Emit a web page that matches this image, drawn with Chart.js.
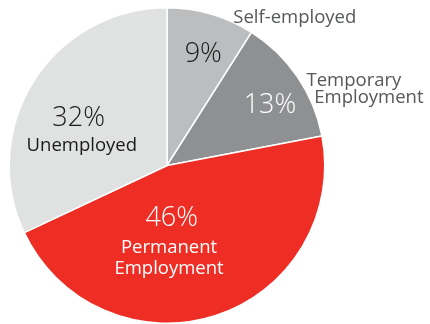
<!DOCTYPE html>
<html><head><meta charset="utf-8">
<script src="https://cdn.jsdelivr.net/npm/chart.js@4.4.1/dist/chart.umd.min.js"></script>
<style>html,body{margin:0;padding:0;background:#fff}#wrap{width:430px;height:324px}</style>
</head><body><div id="wrap"><canvas id="c" width="430" height="324"></canvas></div>
<script>
const categories = ["Self-employed", "Temporary Employment", "Permanent Employment", "Unemployed"];
const shares = [9, 13, 46, 32];
const sliceColors = ["#bbbdbf", "#8e9092", "#ee2e24", "#e0e1e1"];

// label layout relative to pie centre, in units of the radius
const labelSpecs = [
  [{t: shares[0] + "%", dx: 0.23, by: -0.656, big: true, c: "#1a1a1a"},
   {t: "Self-employed", dx: 0.81, by: -0.902, big: false, c: "#555759"}],
  [{t: shares[1] + "%", dx: 0.653, by: -0.335, big: true, c: "#ffffff"},
   {t: "Temporary", dx: 1.185, by: -0.505, big: false, c: "#555759"},
   {t: "Employment", dx: 1.28, by: -0.397, big: false, c: "#555759"}],
  [{t: shares[2] + "%", dx: 0.03, by: 0.385, big: true, c: "#ffffff"},
   {t: "Permanent", dx: 0.013, by: 0.555, big: false, c: "#ffffff"},
   {t: "Employment", dx: 0.013, by: 0.69, big: false, c: "#ffffff"}],
  [{t: shares[3] + "%", dx: -0.56, by: -0.252, big: true, c: "#1a1a1a"},
   {t: "Unemployed", dx: -0.54, by: -0.095, big: false, c: "#1a1a1a"}]
];

const labelPlugin = {
  id: "sliceLabels",
  afterDatasetsDraw(chart) {
    const ctx = chart.ctx;
    const arcs = chart.getDatasetMeta(0).data;
    ctx.save();
    ctx.textAlign = "center";
    ctx.textBaseline = "alphabetic";
    arcs.forEach((arc, i) => {
      const p = arc.getProps(["x", "y", "outerRadius"], true);
      labelSpecs[i].forEach(l => {
        ctx.font = l.big ? "300 27px 'Open Sans', sans-serif" : "400 18.5px 'Open Sans', sans-serif";
        ctx.fillStyle = l.c;
        ctx.fillText(l.t, p.x + l.dx * p.outerRadius, p.y + l.by * p.outerRadius);
      });
    });
    ctx.restore();
  }
};

new Chart(document.getElementById("c"), {
  type: "pie",
  data: {
    labels: categories,
    datasets: [{
      data: shares,
      backgroundColor: sliceColors,
      borderColor: "#ffffff",
      borderWidth: 1.5,
      hoverOffset: 0
    }]
  },
  options: {
    responsive: false,
    animation: false,
    devicePixelRatio: 1,
    layout: {padding: {left: 7, right: 103, top: 7, bottom: -3}},
    plugins: {legend: {display: false}, tooltip: {enabled: false}}
  },
  plugins: [labelPlugin]
});
</script>
</body></html>
